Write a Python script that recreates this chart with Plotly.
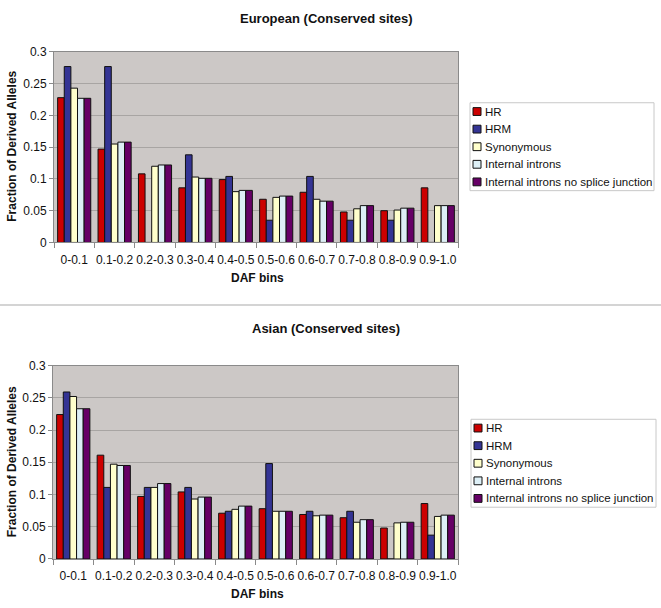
import plotly.graph_objects as go

W, H = 661, 608

categories = ["0-0.1", "0.1-0.2", "0.2-0.3", "0.3-0.4", "0.4-0.5",
              "0.5-0.6", "0.6-0.7", "0.7-0.8", "0.8-0.9", "0.9-1.0"]
series_names = ["HR", "HRM", "Synonymous", "Internal introns",
                "Internal introns no splice junction"]

# European (Conserved sites)
eu_hr = [0.228, 0.147, 0.108, 0.086, 0.099, 0.068, 0.079, 0.048, 0.050, 0.086]
eu_hrm = [0.277, 0.277, 0.0, 0.138, 0.104, 0.035, 0.104, 0.035, 0.035, 0.0]
eu_syn = [0.243, 0.155, 0.120, 0.103, 0.080, 0.071, 0.068, 0.053, 0.051, 0.058]
eu_ii = [0.227, 0.158, 0.122, 0.101, 0.082, 0.073, 0.065, 0.058, 0.054, 0.058]
eu_iinsj = [0.227, 0.158, 0.122, 0.101, 0.082, 0.073, 0.065, 0.058, 0.054, 0.058]

# Asian (Conserved sites)
as_hr = [0.224, 0.161, 0.097, 0.104, 0.071, 0.078, 0.069, 0.064, 0.048, 0.086]
as_hrm = [0.259, 0.111, 0.111, 0.111, 0.074, 0.148, 0.074, 0.074, 0.0, 0.037]
as_syn = [0.252, 0.147, 0.111, 0.093, 0.077, 0.074, 0.067, 0.057, 0.056, 0.066]
as_ii = [0.233, 0.145, 0.117, 0.096, 0.082, 0.074, 0.068, 0.061, 0.057, 0.068]
as_iinsj = [0.233, 0.145, 0.117, 0.096, 0.082, 0.074, 0.068, 0.061, 0.057, 0.068]

y_ticks = [0, 0.05, 0.1, 0.15, 0.2, 0.25, 0.3]
y_tick_labels = ["0", "0.05", "0.1", "0.15", "0.2", "0.25", "0.3"]

colors = ["#CC0000", "#343494", "#FFFFCC", "#DDEFF6", "#660066"]
FONT = "Arial, Liberation Sans, sans-serif"


def px(x):
    return x / W


def py(y):
    return 1 - y / H


fig = go.Figure()

eu = [eu_hr, eu_hrm, eu_syn, eu_ii, eu_iinsj]
asn = [as_hr, as_hrm, as_syn, as_ii, as_iinsj]
for name, vals, c in zip(series_names, eu, colors):
    fig.add_trace(go.Bar(x=categories, y=vals, name=name, marker_color=c,
                         marker_line=dict(color="#111111", width=1),
                         xaxis="x", yaxis="y", showlegend=False))
for name, vals, c in zip(series_names, asn, colors):
    fig.add_trace(go.Bar(x=categories, y=vals, name=name, marker_color=c,
                         marker_line=dict(color="#111111", width=1),
                         xaxis="x2", yaxis="y2", showlegend=False))

axis_common_x = dict(type="category", showline=True, linecolor="#8a8a8a",
                     linewidth=1, mirror=True, ticks="outside",
                     tickson="boundaries", ticklen=5, tickcolor="#8a8a8a",
                     tickangle=0, showgrid=False, ticklabelstandoff=6,
                     tickfont=dict(family=FONT, size=12, color="#111"))
axis_common_y = dict(range=[0, 0.3], tickvals=y_ticks, ticktext=y_tick_labels,
                     showline=True, linecolor="#8a8a8a", linewidth=1,
                     mirror=True, ticks="outside", ticklen=4,
                     tickcolor="#8a8a8a", showgrid=True, gridcolor="#A8A5A3",
                     gridwidth=1, zeroline=False,
                     tickfont=dict(family=FONT, size=12, color="#111"))

fig.update_layout(
    width=W, height=H,
    margin=dict(l=0, r=0, t=0, b=0),
    paper_bgcolor="white",
    plot_bgcolor="#CCC8C6",
    barmode="group", bargap=0.18, bargroupgap=0,
    xaxis=dict(domain=[px(54), px(458)], anchor="y", **axis_common_x),
    yaxis=dict(domain=[py(241), py(46)], anchor="x", **axis_common_y),
    xaxis2=dict(domain=[px(53), px(458)], anchor="y2", **axis_common_x),
    yaxis2=dict(domain=[py(565), py(367)], anchor="x2", **axis_common_y),
)

shapes = []
annotations = []

# separator line
shapes.append(dict(type="line", xref="paper", yref="paper", x0=0, x1=1,
                   y0=py(305), y1=py(305), line=dict(color="#D4D4D4", width=2)))

# titles & axis titles
for title, ty, ylab_y, xlab_y in [("European (Conserved sites)", 12, 143, 277),
                                  ("Asian (Conserved sites)", 329, 466, 601)]:
    annotations.append(dict(text="<b>%s</b>" % title, xref="paper", yref="paper",
                            x=px(326), y=py(ty), showarrow=False,
                            xanchor="center", yanchor="middle",
                            font=dict(family=FONT, size=13, color="#111")))
    annotations.append(dict(text="<b>Fraction of Derived Alleles</b>", xref="paper",
                            yref="paper", x=px(12), y=py(ylab_y), textangle=-90,
                            showarrow=False, xanchor="center", yanchor="middle",
                            font=dict(family=FONT, size=12, color="#111")))
    annotations.append(dict(text="<b>DAF bins</b>", xref="paper", yref="paper",
                            x=px(257), y=py(xlab_y), showarrow=False,
                            xanchor="center", yanchor="middle",
                            font=dict(family=FONT, size=12, color="#111")))

# manual legends
for box_top, box_left, box_right in [(98, 470, 654), (422, 471, 656)]:
    shapes.append(dict(type="rect", xref="paper", yref="paper",
                       x0=px(box_left), x1=px(box_right),
                       y0=py(box_top), y1=py(box_top + 90),
                       line=dict(color="#C8C8C8", width=1), fillcolor="white"))
    for i, (name, c) in enumerate(zip(series_names, colors)):
        cy = box_top + 9 + 18 * i
        shapes.append(dict(type="rect", xref="paper", yref="paper",
                           x0=px(box_left + 3), x1=px(box_left + 11),
                           y0=py(cy - 4), y1=py(cy + 4),
                           line=dict(color="#111", width=1), fillcolor=c))
        annotations.append(dict(text=name, xref="paper", yref="paper",
                                x=px(box_left + 13), y=py(cy), showarrow=False,
                                xanchor="left", yanchor="middle",
                                font=dict(family=FONT, size=11.5, color="#111")))

fig.update_layout(shapes=shapes, annotations=annotations)
fig.write_html("out.html", config={"displayModeBar": False},
               post_script="document.body.style.margin='0';")
